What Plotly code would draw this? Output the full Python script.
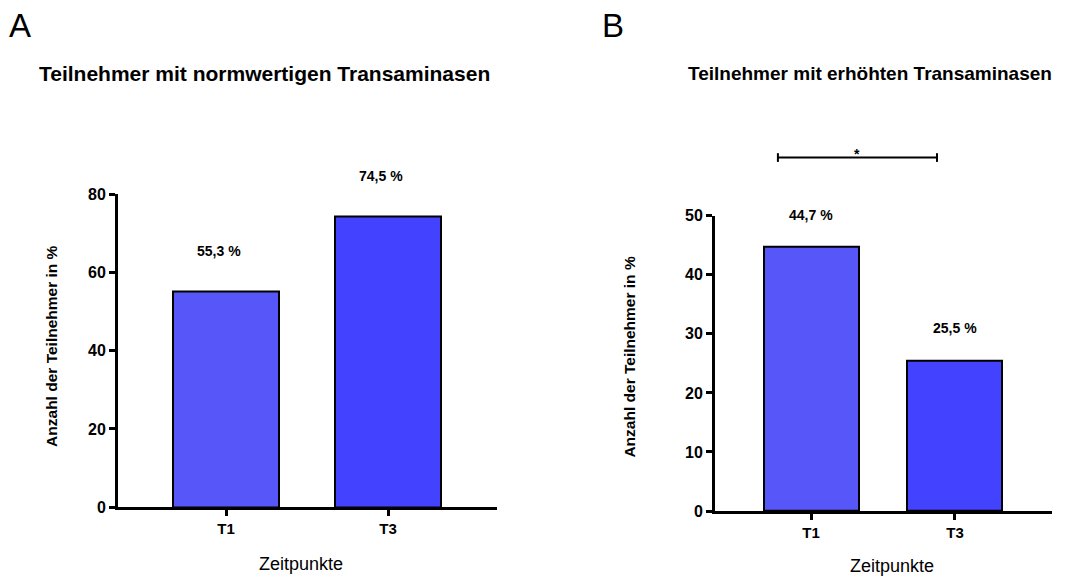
import plotly.graph_objects as go

# Data
categories = ["T1", "T3"]
normal_pct = [55.3, 74.5]      # Teilnehmer mit normwertigen Transaminasen
elevated_pct = [44.7, 25.5]    # Teilnehmer mit erhöhten Transaminasen
bar_colors = ["#5757F9", "#4242FF"]
ticks_a = [0, 20, 40, 60, 80]
ticks_b = [0, 10, 20, 30, 40, 50]

FONT = "Liberation Sans, Arial, sans-serif"
W, H = 1066, 587


def px_x(p):
    return p / W


def px_y(p):
    return (H - p) / H


def fmt(v):
    return f"{v:.1f}".replace(".", ",") + " %"


fig = go.Figure()

fig.add_trace(go.Bar(
    x=categories, y=normal_pct, width=0.65,
    marker=dict(color=bar_colors, line=dict(color="black", width=2)),
    xaxis="x", yaxis="y", showlegend=False, hoverinfo="x+y",
))
fig.add_trace(go.Bar(
    x=categories, y=elevated_pct, width=0.66,
    marker=dict(color=bar_colors, line=dict(color="black", width=2)),
    xaxis="x2", yaxis="y2", showlegend=False, hoverinfo="x+y",
))

axis_common = dict(
    showline=True, linecolor="black", linewidth=3,
    ticks="outside", ticklen=6, tickwidth=2.5, tickcolor="black",
    showgrid=False, zeroline=False,
    tickfont=dict(family=FONT, size=16, color="black", weight="bold"),
)

fig.update_layout(
    width=W, height=H,
    margin=dict(l=0, r=0, t=0, b=0),
    paper_bgcolor="white", plot_bgcolor="white",
    font=dict(family=FONT, color="black"),
    bargap=0,
    xaxis=dict(domain=[px_x(118), px_x(497)], range=[-0.667, 1.673],
               type="category", anchor="y", **axis_common),
    yaxis=dict(domain=[px_y(514), px_y(192)], range=[0, 80],
               tickvals=ticks_a, anchor="x", **axis_common),
    xaxis2=dict(domain=[px_x(715), px_x(1052)], range=[-0.667, 1.674],
                type="category", anchor="y2", **axis_common),
    yaxis2=dict(domain=[px_y(518), px_y(214)], range=[0, 50],
                tickvals=ticks_b, anchor="x2", **axis_common),
)
fig.update_xaxes(tickfont_size=15)

ann = []

# Panel letters
for letter, xl in [("A", 7), ("B", 600)]:
    ann.append(dict(text=letter, x=px_x(xl), y=px_y(18), xref="paper", yref="paper",
                    xanchor="left", yanchor="middle", showarrow=False,
                    font=dict(family=FONT, size=33, color="black")))

# Panel titles
ann.append(dict(text="Teilnehmer mit normwertigen Transaminasen",
                x=px_x(264), y=px_y(67), xref="paper", yref="paper",
                xanchor="center", yanchor="middle", showarrow=False,
                font=dict(family=FONT, size=21, color="black", weight="bold")))
ann.append(dict(text="Teilnehmer mit erhöhten Transaminasen",
                x=px_x(870), y=px_y(67), xref="paper", yref="paper",
                xanchor="center", yanchor="middle", showarrow=False,
                font=dict(family=FONT, size=19, color="black", weight="bold")))

# Axis titles
for xc, yc in [(52, 349), (630, 360)]:
    ann.append(dict(text="Anzahl der Teilnehmer in %", textangle=-90,
                    x=px_x(xc), y=px_y(yc), xref="paper", yref="paper",
                    xanchor="center", yanchor="middle", showarrow=False,
                    font=dict(family=FONT, size=15.5, color="black", weight="bold")))
for xc, yc in [(301, 573), (892, 575)]:
    ann.append(dict(text="Zeitpunkte",
                    x=px_x(xc), y=px_y(yc), xref="paper", yref="paper",
                    xanchor="center", yanchor="middle", showarrow=False,
                    font=dict(family=FONT, size=18, color="black")))

# Value labels above bars
for c, v in zip(categories, normal_pct):
    ann.append(dict(text=fmt(v), x=c, y=v, xref="x", yref="y",
                    xanchor="center", yanchor="middle", showarrow=False,
                    yshift=40, xshift=-7,
                    font=dict(family=FONT, size=14, color="black", weight="bold")))
for c, v in zip(categories, elevated_pct):
    ann.append(dict(text=fmt(v), x=c, y=v, xref="x2", yref="y2",
                    xanchor="center", yanchor="middle", showarrow=False,
                    yshift=32,
                    font=dict(family=FONT, size=14, color="black", weight="bold")))

# Significance marker between T1 and T3 (panel B)
ann.append(dict(text="*", x=0.32, y=px_y(140), xref="x2", yref="paper",
                xanchor="center", yanchor="top", showarrow=False,
                font=dict(family=FONT, size=14, color="black", weight="bold")))

fig.update_layout(annotations=ann)

br_left, br_right = -0.23, 0.875
br_y, cap = px_y(154), 4.5 / H
line = dict(color="black", width=2)
shapes = [
    dict(type="line", xref="x2", yref="paper", x0=br_left, x1=br_right,
         y0=br_y, y1=br_y, line=line),
    dict(type="line", xref="x2", yref="paper", x0=br_left, x1=br_left,
         y0=br_y - cap, y1=br_y + cap, line=line),
    dict(type="line", xref="x2", yref="paper", x0=br_right, x1=br_right,
         y0=br_y - cap, y1=br_y + cap, line=line),
]
fig.update_layout(shapes=shapes)

fig.write_html("out.html")
